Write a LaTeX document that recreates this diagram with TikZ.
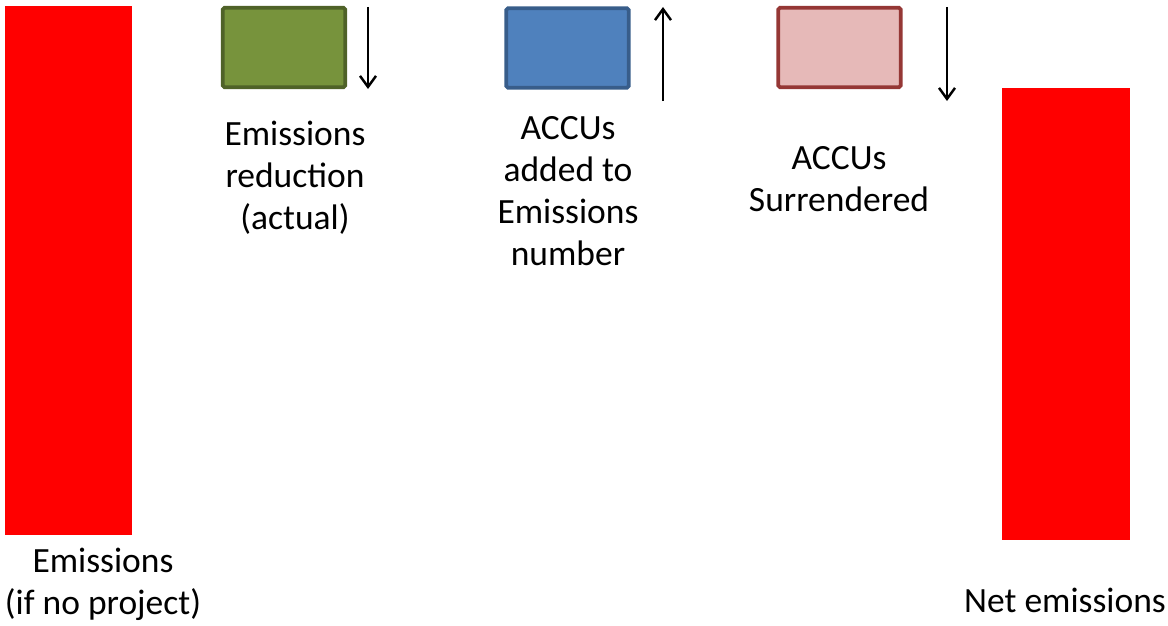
\documentclass[tikz,border=0pt]{standalone}
\usepackage{fontspec}
\setmainfont{Carlito}
\usepackage{tikz}
\usetikzlibrary{shapes,arrows.meta,positioning}

\definecolor{barred}{HTML}{FF0000}
\definecolor{greenfill}{HTML}{77933C}
\definecolor{greenline}{HTML}{4F6228}
\definecolor{bluefill}{HTML}{4F81BD}
\definecolor{blueline}{HTML}{385D8A}
\definecolor{pinkfill}{HTML}{E6B9B8}
\definecolor{pinkline}{HTML}{953735}

\begin{document}
\begin{tikzpicture}[x=0.02cm, y=-0.02cm,
  bar/.style={fill=barred, draw=none, inner sep=0pt},
  stepbox/.style={rectangle, rounded corners=1pt, line width=2.1pt, minimum width=2.45cm, minimum height=1.59cm, inner sep=0pt},
  lbl/.style={align=center, font=\fontsize{20.2}{24}\selectfont},
  updown/.style={-{Straight Barb[length=0.22cm, width=0.32cm]}, line width=1.4pt}]
\useasboundingbox (0,0) rectangle (1168,625);

\node (noproj) [bar, minimum width=2.54cm, minimum height=10.58cm, anchor=north west] at (5,6) {};
\node (net) [bar, minimum width=2.56cm, minimum height=9.04cm, anchor=north west] at (1002,88) {};

\node (reduct) [stepbox, fill=greenfill, draw=greenline] at (284,47.5) {};
\node (added) [stepbox, fill=bluefill, draw=blueline] at (567.5,48) {};
\node (surr) [stepbox, fill=pinkfill, draw=pinkline] at (839.5,47.5) {};

\coordinate (reducttop) at (368,7);
\coordinate (reductbot) at (368,89);
\coordinate (addedbot) at (663,101);
\coordinate (addedtop) at (663,7);
\coordinate (surrtop) at (947,7);
\coordinate (surrbot) at (947,101);

\node (reductlbl) [lbl] at (295,177.5) {Emissions\\reduction\\(actual)};
\node (addedlbl) [lbl] at (568,191) {ACCUs\\added to\\Emissions\\number};
\node (surrlbl) [lbl] at (839,179) {ACCUs\\Surrendered};
\node (noprojlbl) [lbl] at (103,584) {Emissions\\(if no project)};
\node (netlbl) [lbl] at (1065,600) {Net emissions};

\draw[updown] (reducttop) to (reductbot);
\draw[updown] (addedbot) to (addedtop);
\draw[updown] (surrtop) to (surrbot);
\end{tikzpicture}
\end{document}
